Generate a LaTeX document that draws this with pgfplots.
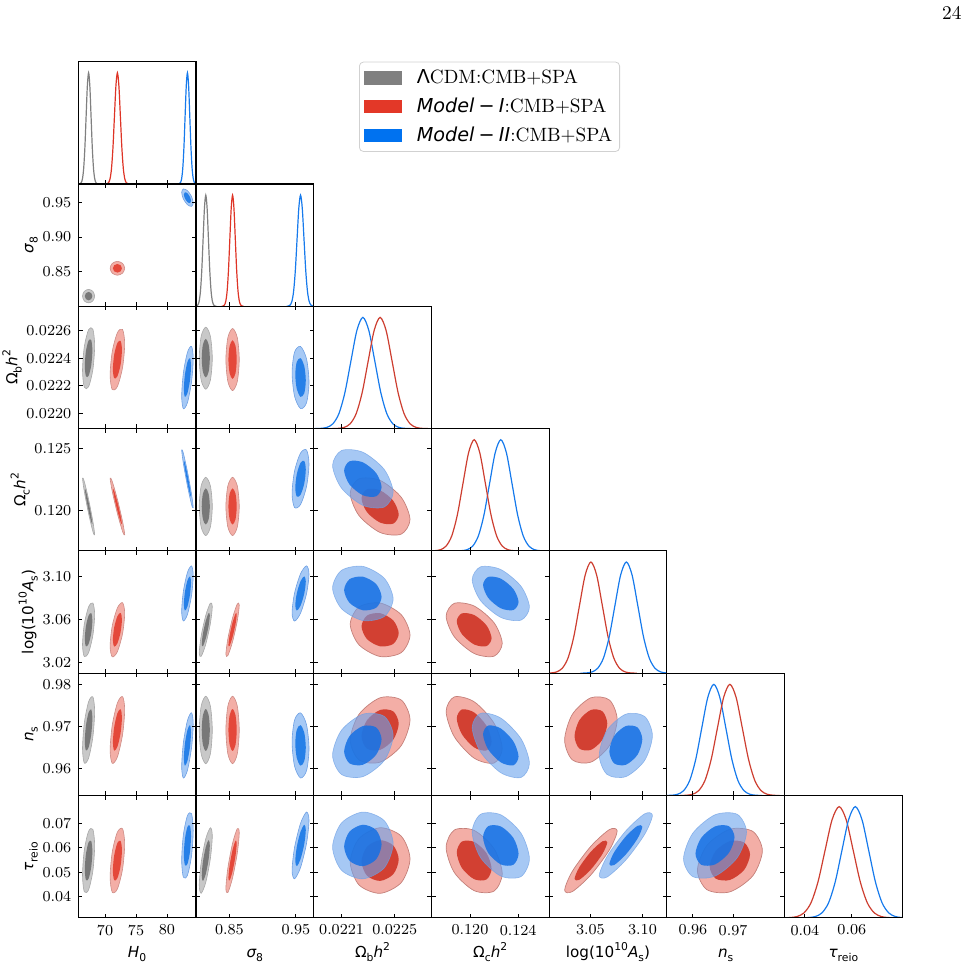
\documentclass[border=0pt]{standalone}
\usepackage{fontspec}
\usepackage{pgfplots}
\pgfplotsset{compat=1.18}
\newfontfamily\dv{DejaVu Sans}
\newcommand\tlf{\fontsize{7.6}{9}\selectfont}
\newcommand\lf{\dv\fontsize{7.6}{9}\selectfont\strut}
\newcommand\sbs[1]{\smash{\raisebox{-0.28em}{\fontsize{5.4}{6}\selectfont #1}}}
\newcommand\sps[1]{\smash{\raisebox{0.45em}{\fontsize{5.4}{6}\selectfont #1}}}
\definecolor{gL}{RGB}{200,200,200}
\definecolor{gE}{RGB}{168,168,168}
\definecolor{gD}{RGB}{120,120,120}
\definecolor{rL}{RGB}{243,174,166}
\definecolor{rE}{RGB}{205,140,134}
\definecolor{rE2}{RGB}{196,128,122}
\definecolor{rD}{RGB}{228,72,58}
\definecolor{rD2}{RGB}{210,64,50}
\definecolor{bL}{RGB}{166,201,245}
\definecolor{bE}{RGB}{110,160,228}
\definecolor{bD}{RGB}{38,128,232}
\definecolor{bLt}{RGB}{107,163,237}
\definecolor{bD2}{RGB}{20,112,228}
\definecolor{lG}{RGB}{128,128,128}
\definecolor{lR}{RGB}{222,52,38}
\definecolor{lRg}{RGB}{205,62,48}
\definecolor{lB}{RGB}{22,122,236}
\definecolor{legG}{RGB}{128,128,128}
\definecolor{legR}{RGB}{227,56,40}
\definecolor{legB}{RGB}{0,114,240}
\pgfplotsset{
  base/.style={scale only axis, width=58.85pt, height=61.15pt, anchor=south west,
    tick align=inside, major tick length=2.1pt,
    major tick style={black, line width=0.45pt},
    axis line style={line width=0.55pt},
    tick label style={font=\tlf},
    scaled ticks=false,
    xticklabels={}, yticklabels={},
    axis on top,
    xlabel style={inner sep=1.1pt},
    ylabel style={inner sep=0pt},
    ylabel shift=-1.7pt},
  twod/.style={base, xtick pos=both, ytick pos=both},
  oned/.style={base, xtick pos=left, ytick=\empty, ymin=0, ymax=1.1},
  xH/.style={xmin=65.69,xmax=84.68,xtick={70,75,80}},
  xS/.style={xmin=0.7998,xmax=0.9768,xtick={0.85,0.95}},
  yS/.style={ymin=0.7998,ymax=0.9768,ytick={0.85,0.90,0.95}},
  xOb/.style={xmin=0.02189,xmax=0.022776,xtick={0.0221,0.0225}},
  yOb/.style={ymin=0.02189,ymax=0.022776,ytick={0.0220,0.0222,0.0224,0.0226}},
  xOc/.style={xmin=0.1168,xmax=0.12657,xtick={0.120,0.124}},
  yOc/.style={ymin=0.1168,ymax=0.12657,ytick={0.120,0.125}},
  xAs/.style={xmin=3.0104,xmax=3.1233,xtick={3.05,3.10}},
  yAs/.style={ymin=3.0104,ymax=3.1233,ytick={3.02,3.06,3.10}},
  xns/.style={xmin=0.9535,xmax=0.9828,xtick={0.96,0.97}},
  yns/.style={ymin=0.9535,ymax=0.9828,ytick={0.96,0.97,0.98}},
  xtau/.style={xmin=0.0313,xmax=0.0815,xtick={0.04,0.06}},
  ytau/.style={ymin=0.0313,ymax=0.0815,ytick={0.04,0.05,0.06,0.07}},
  g95/.style={smooth cycle, fill=gL, draw=gE, line width=0.3pt},
  g68/.style={smooth cycle, fill=gD, draw=none},
  r95/.style={smooth cycle, fill=rL, draw=rE, line width=0.3pt},
  r68/.style={smooth cycle, fill=rD, draw=none},
  b95/.style={smooth cycle, fill=bL, draw=bE, line width=0.3pt},
  b68/.style={smooth cycle, fill=bD, draw=none},
  R95/.style={smooth cycle, fill=rL, draw=rE2, line width=0.35pt},
  R68/.style={smooth cycle, fill=rD2, draw=none},
  B95/.style={smooth cycle, fill=bLt, fill opacity=0.6, draw=bE, draw opacity=0.7, line width=0.3pt},
  B68/.style={smooth cycle, fill=bD2, fill opacity=0.85, draw=none},
  lnG/.style={smooth, draw=lG, line width=0.6pt},
  lnR/.style={smooth, draw=lR, line width=0.6pt},
  lnRg/.style={smooth, draw=lRg, line width=0.6pt},
  lnB/.style={smooth, draw=lB, line width=0.6pt},
}
\begin{document}
\begin{tikzpicture}
\path[use as bounding box] (0,0) rectangle (484pt,481pt);
% ================= Row 1 =================
\begin{axis}[oned, xH, at={(39.15pt,389pt)},
  legend style={at={(axis description cs:2.385,1)}, anchor=north west, draw=black!18, line width=0.4pt,
    rounded corners=2pt, fill=white, font=\fontsize{9.6}{11}\selectfont, row sep=2.6pt,
    inner xsep=2.2pt, inner ysep=2.2pt, nodes={inner sep=1.5pt}},
  legend cell align=left,
  legend image code/.code={\fill[#1, sharp corners] (1pt,-3.35pt) rectangle (20pt,3.35pt); \path (26pt,0pt);}]
\addlegendimage{fill=legG, draw=none}
\addlegendentry{{\dv Λ}CDM:CMB+SPA}
\addlegendimage{fill=legR, draw=none}
\addlegendentry{{\dv\itshape Model}{\dv\hspace{0.22em}−\hspace{0.22em}}{\dv\itshape I}:CMB+SPA}
\addlegendimage{fill=legB, draw=none}
\addlegendentry{{\dv\itshape Model}{\dv\hspace{0.22em}−\hspace{0.22em}}{\dv\itshape II}:CMB+SPA}
\addplot[lnG, forget plot] coordinates {(65.75,0.0003)(65.95,0.0022)(66.15,0.0111)(66.35,0.0439)(66.55,0.1353)(66.75,0.3247)(66.95,0.6065)(67.15,0.8825)(67.35,1)(67.55,0.8825)(67.75,0.6065)(67.95,0.3247)(68.15,0.1353)(68.35,0.0439)(68.55,0.0111)(68.75,0.0022)(68.95,0.0003)};
\addplot[lnR, forget plot] coordinates {(70.08,0.0003)(70.32,0.0022)(70.56,0.0111)(70.8,0.0439)(71.04,0.1353)(71.28,0.3247)(71.52,0.6065)(71.76,0.8825)(72,1)(72.24,0.8825)(72.48,0.6065)(72.72,0.3247)(72.96,0.1353)(73.2,0.0439)(73.44,0.0111)(73.68,0.0022)(73.92,0.0003)};
\addplot[lnB, forget plot] coordinates {(81.78,0.0003)(81.97,0.0022)(82.16,0.0111)(82.35,0.0439)(82.54,0.1353)(82.73,0.3247)(82.92,0.6065)(83.11,0.8825)(83.3,1)(83.49,0.8825)(83.68,0.6065)(83.87,0.3247)(84.06,0.1353)(84.25,0.0439)(84.44,0.0111)(84.63,0.0022)(84.82,0.0003)};
\end{axis}
% ================= Row 2 =================
\begin{axis}[twod, xH, yS, at={(39.15pt,327.85pt)}, yticklabels={0.85,0.90,0.95}, ylabel={\lf\itshape σ\sbs{\upshape 8}}]
\addplot[g95] coordinates {(68.33,0.8145)(68.043,0.82143)(67.35,0.8243)(66.657,0.82143)(66.37,0.8145)(66.657,0.80757)(67.35,0.8047)(68.043,0.80757)};
\addplot[g68] coordinates {(67.958,0.8145)(67.78,0.8188)(67.35,0.82058)(66.92,0.8188)(66.742,0.8145)(66.92,0.8102)(67.35,0.80842)(67.78,0.8102)};
\addplot[r95] coordinates {(73.176,0.8548)(72.831,0.8619)(72,0.86485)(71.169,0.8619)(70.824,0.8548)(71.169,0.8477)(72,0.84475)(72.831,0.8477)};
\addplot[r68] coordinates {(72.73,0.8548)(72.516,0.85921)(72,0.86103)(71.484,0.85921)(71.27,0.8548)(71.484,0.85039)(72,0.84857)(72.516,0.85039)};
\addplot[b95] coordinates {(84.231,0.94936)(83.958,0.9588)(83.3,0.96719)(82.642,0.96961)(82.369,0.96464)(82.642,0.9552)(83.3,0.94681)(83.958,0.94439)};
\addplot[b68] coordinates {(83.878,0.95226)(83.7085,0.95812)(83.3,0.96332)(82.8915,0.96482)(82.722,0.96174)(82.8915,0.95588)(83.3,0.95068)(83.7085,0.94918)};
\end{axis}
\begin{axis}[oned, xS, at={(98pt,327.85pt)}]
\addplot[lnG] coordinates {(0.7985,0.0003)(0.8005,0.0022)(0.8025,0.0111)(0.8045,0.0439)(0.8065,0.1353)(0.8085,0.3247)(0.8105,0.6065)(0.8125,0.8825)(0.8145,1)(0.8165,0.8825)(0.8185,0.6065)(0.8205,0.3247)(0.8225,0.1353)(0.8245,0.0439)(0.8265,0.0111)(0.8285,0.0022)(0.8305,0.0003)};
\addplot[lnR] coordinates {(0.8384,0.0003)(0.84045,0.0022)(0.8425,0.0111)(0.84455,0.0439)(0.8466,0.1353)(0.84865,0.3247)(0.8507,0.6065)(0.85275,0.8825)(0.8548,1)(0.85685,0.8825)(0.8589,0.6065)(0.86095,0.3247)(0.863,0.1353)(0.86505,0.0439)(0.8671,0.0111)(0.86915,0.0022)(0.8712,0.0003)};
\addplot[lnB] coordinates {(0.9362,0.0003)(0.9388,0.0022)(0.9414,0.0111)(0.944,0.0439)(0.9466,0.1353)(0.9492,0.3247)(0.9518,0.6065)(0.9544,0.8825)(0.957,1)(0.9596,0.8825)(0.9622,0.6065)(0.9648,0.3247)(0.9674,0.1353)(0.97,0.0439)(0.9726,0.0111)(0.9752,0.0022)(0.9778,0.0003)};
\end{axis}
% ================= Row 3 =================
\begin{axis}[twod, xH, yOb, at={(39.15pt,266.7pt)}, yticklabels={0.0220,0.0222,0.0224,0.0226}, ylabel={\lf Ω\sbs{b}\itshape h\sps{\upshape 2}}]
\addplot[g95] coordinates {(68.33,0.022490)(68.043,0.022610)(67.35,0.022607)(66.657,0.022482)(66.37,0.022310)(66.657,0.022190)(67.35,0.022193)(68.043,0.022318)};
\addplot[g68] coordinates {(67.958,0.022456)(67.78,0.022530)(67.35,0.022528)(66.92,0.022451)(66.742,0.022344)(66.92,0.022270)(67.35,0.022272)(67.78,0.022349)};
\addplot[r95] coordinates {(73.176,0.022503)(72.831,0.022608)(72,0.022585)(71.169,0.022448)(70.824,0.022277)(71.169,0.022172)(72,0.022195)(72.831,0.022332)};
\addplot[r68] coordinates {(72.73,0.022460)(72.516,0.022525)(72,0.022511)(71.484,0.022426)(71.27,0.022320)(71.484,0.022255)(72,0.022269)(72.516,0.022354)};
\addplot[b95] coordinates {(84.231,0.022397)(83.958,0.022486)(83.3,0.022442)(82.642,0.022292)(82.369,0.022123)(82.642,0.022034)(83.3,0.022078)(83.958,0.022228)};
\addplot[b68] coordinates {(83.878,0.022345)(83.7085,0.022400)(83.3,0.022373)(82.8915,0.022280)(82.722,0.022175)(82.8915,0.022120)(83.3,0.022147)(83.7085,0.022240)};
\end{axis}
\begin{axis}[twod, xS, yOb, at={(98pt,266.7pt)}]
\addplot[g95] coordinates {(0.8243,0.022400)(0.82143,0.022559)(0.8145,0.022625)(0.80757,0.022559)(0.8047,0.022400)(0.80757,0.022241)(0.8145,0.022175)(0.82143,0.022241)};
\addplot[g68] coordinates {(0.82058,0.022400)(0.8188,0.022499)(0.8145,0.022540)(0.8102,0.022499)(0.80842,0.022400)(0.8102,0.022301)(0.8145,0.022260)(0.8188,0.022301)};
\addplot[r95] coordinates {(0.86485,0.022390)(0.8619,0.022549)(0.8548,0.022615)(0.8477,0.022549)(0.84475,0.022390)(0.8477,0.022231)(0.8548,0.022165)(0.8619,0.022231)};
\addplot[r68] coordinates {(0.86103,0.022390)(0.85921,0.022489)(0.8548,0.022530)(0.85039,0.022489)(0.84857,0.022390)(0.85039,0.022291)(0.8548,0.022250)(0.85921,0.022291)};
\addplot[b95] coordinates {(0.96974,0.022226)(0.96601,0.022395)(0.957,0.022485)(0.94799,0.022444)(0.94426,0.022294)(0.94799,0.022125)(0.957,0.022035)(0.96601,0.022077)};
\addplot[b68] coordinates {(0.9649,0.022239)(0.96259,0.022344)(0.957,0.0224)(0.95141,0.022374)(0.9491,0.022281)(0.95141,0.022176)(0.957,0.02212)(0.96259,0.022146)};
\end{axis}
\begin{axis}[oned, xOb, at={(156.85pt,266.7pt)}]
\addplot[lnB] coordinates {(0.0219,0.0003)(0.021945,0.0022)(0.02199,0.0111)(0.022035,0.0439)(0.02208,0.1353)(0.022125,0.3247)(0.02217,0.6065)(0.022215,0.8825)(0.02226,1)(0.022305,0.8825)(0.02235,0.6065)(0.022395,0.3247)(0.02244,0.1353)(0.022485,0.0439)(0.02253,0.0111)(0.022575,0.0022)(0.02262,0.0003)};
\addplot[lnRg] coordinates {(0.02203,0.0003)(0.022075,0.0022)(0.02212,0.0111)(0.022165,0.0439)(0.02221,0.1353)(0.022255,0.3247)(0.0223,0.6065)(0.022345,0.8825)(0.02239,1)(0.022435,0.8825)(0.02248,0.6065)(0.022525,0.3247)(0.02257,0.1353)(0.022615,0.0439)(0.02266,0.0111)(0.022705,0.0022)(0.02275,0.0003)};
\end{axis}
% ================= Row 4 =================
\begin{axis}[twod, xH, yOc, at={(39.15pt,205.55pt)}, yticklabels={0.120,0.125}, ylabel={\lf Ω\sbs{c}\itshape h\sps{\upshape 2}}]
\addplot[g95] coordinates {(68.33,0.118092)(68.043,0.119153)(67.35,0.120916)(66.657,0.122347)(66.37,0.122608)(66.657,0.121547)(67.35,0.119784)(68.043,0.118353)};
\addplot[g68] coordinates {(67.958,0.118949)(67.78,0.119608)(67.35,0.120701)(66.92,0.121589)(66.742,0.121751)(66.92,0.121092)(67.35,0.119999)(67.78,0.119111)};
\addplot[r95] coordinates {(73.176,0.118092)(72.831,0.119153)(72,0.120916)(71.169,0.122347)(70.824,0.122608)(71.169,0.121547)(72,0.119784)(72.831,0.118353)};
\addplot[r68] coordinates {(72.73,0.118949)(72.516,0.119608)(72,0.120701)(71.484,0.121589)(71.27,0.121751)(71.484,0.121092)(72,0.119999)(72.516,0.119111)};
\addplot[b95] coordinates {(84.231,0.120254)(83.958,0.121338)(83.3,0.123138)(82.642,0.124599)(82.369,0.124866)(82.642,0.123782)(83.3,0.121982)(83.958,0.120521)};
\addplot[b68] coordinates {(83.878,0.12113)(83.7085,0.121802)(83.3,0.122918)(82.8915,0.123824)(82.722,0.12399)(82.8915,0.123318)(83.3,0.122202)(83.7085,0.121296)};
\end{axis}
\begin{axis}[twod, xS, yOc, at={(98pt,205.55pt)}]
\addplot[g95] coordinates {(0.8243,0.12035)(0.82143,0.121996)(0.8145,0.122678)(0.80757,0.121996)(0.8047,0.12035)(0.80757,0.118704)(0.8145,0.118022)(0.82143,0.118704)};
\addplot[g68] coordinates {(0.82058,0.12035)(0.8188,0.121371)(0.8145,0.121794)(0.8102,0.121371)(0.80842,0.12035)(0.8102,0.119329)(0.8145,0.118906)(0.8188,0.119329)};
\addplot[r95] coordinates {(0.86485,0.12035)(0.8619,0.121996)(0.8548,0.122678)(0.8477,0.121996)(0.84475,0.12035)(0.8477,0.118704)(0.8548,0.118022)(0.8619,0.118704)};
\addplot[r68] coordinates {(0.86103,0.12035)(0.85921,0.121371)(0.8548,0.121794)(0.85039,0.121371)(0.84857,0.12035)(0.85039,0.119329)(0.8548,0.118906)(0.85921,0.119329)};
\addplot[b95] coordinates {(0.96974,0.123749)(0.96601,0.124856)(0.957,0.124618)(0.94799,0.123175)(0.94426,0.121371)(0.94799,0.120264)(0.957,0.120502)(0.96601,0.121945)};
\addplot[b68] coordinates {(0.9649,0.123297)(0.96259,0.123984)(0.957,0.123837)(0.95141,0.122941)(0.9491,0.121823)(0.95141,0.121136)(0.957,0.121283)(0.96259,0.122179)};
\end{axis}
\begin{axis}[twod, xOb, yOc, at={(156.85pt,205.55pt)}]
\addplot[R95] coordinates {(0.022615,0.119302)(0.022549,0.121079)(0.02239,0.122429)(0.022231,0.122561)(0.022165,0.121398)(0.022231,0.119621)(0.02239,0.118271)(0.022549,0.118139)};
\addplot[R68] coordinates {(0.02253,0.1197)(0.022489,0.120802)(0.02239,0.12164)(0.022291,0.121721)(0.02225,0.121)(0.022291,0.119898)(0.02239,0.11906)(0.022489,0.118979)};
\addplot[B95] coordinates {(0.022488,0.12149)(0.022421,0.123305)(0.02226,0.124683)(0.022099,0.124817)(0.022032,0.12363)(0.022099,0.121815)(0.02226,0.120437)(0.022421,0.120303)};
\addplot[B68] coordinates {(0.022401,0.121897)(0.02236,0.123022)(0.02226,0.123876)(0.02216,0.12396)(0.022119,0.123223)(0.02216,0.122098)(0.02226,0.121244)(0.02236,0.12116)};
\end{axis}
\begin{axis}[oned, xOc, at={(215.7pt,205.55pt)}]
\addplot[lnB] coordinates {(0.11884,0.0003)(0.119305,0.0022)(0.11977,0.0111)(0.120235,0.0439)(0.1207,0.1353)(0.121165,0.3247)(0.12163,0.6065)(0.122095,0.8825)(0.12256,1)(0.123025,0.8825)(0.12349,0.6065)(0.123955,0.3247)(0.12442,0.1353)(0.124885,0.0439)(0.12535,0.0111)(0.125815,0.0022)(0.12628,0.0003)};
\addplot[lnRg] coordinates {(0.11663,0.0003)(0.117095,0.0022)(0.11756,0.0111)(0.118025,0.0439)(0.11849,0.1353)(0.118955,0.3247)(0.11942,0.6065)(0.119885,0.8825)(0.12035,1)(0.120815,0.8825)(0.12128,0.6065)(0.121745,0.3247)(0.12221,0.1353)(0.122675,0.0439)(0.12314,0.0111)(0.123605,0.0022)(0.12407,0.0003)};
\end{axis}
% ================= Row 5 =================
\begin{axis}[twod, xH, yAs, at={(39.15pt,144.4pt)}, yticklabels={3.02,3.06,3.10}, ylabel={\lf log(10\sps{10}{\itshape A}\sbs{s})}]
\addplot[g95] coordinates {(68.33,3.0644)(68.043,3.0752)(67.35,3.0716)(66.657,3.0556)(66.37,3.0366)(66.657,3.0258)(67.35,3.0294)(68.043,3.0454)};
\addplot[g68] coordinates {(67.958,3.0591)(67.78,3.0658)(67.35,3.0636)(66.92,3.0537)(66.742,3.0419)(66.92,3.0352)(67.35,3.0374)(67.78,3.0473)};
\addplot[r95] coordinates {(73.176,3.0656)(72.831,3.0755)(72,3.0707)(71.169,3.0541)(70.824,3.0354)(71.169,3.0255)(72,3.0303)(72.831,3.0469)};
\addplot[r68] coordinates {(72.73,3.0599)(72.516,3.066)(72,3.063)(71.484,3.0527)(71.27,3.0411)(71.484,3.035)(72,3.038)(72.516,3.0483)};
\addplot[b95] coordinates {(84.231,3.1006)(83.958,3.1094)(83.3,3.1034)(82.642,3.086)(82.369,3.0674)(82.642,3.0586)(83.3,3.0646)(83.958,3.082)};
\addplot[b68] coordinates {(83.878,3.0943)(83.7085,3.0998)(83.3,3.096)(82.8915,3.0852)(82.722,3.0737)(82.8915,3.0682)(83.3,3.072)(83.7085,3.0828)};
\end{axis}
\begin{axis}[twod, xS, yAs, at={(98pt,144.4pt)}]
\addplot[g95] coordinates {(0.8243,3.072)(0.82143,3.0751)(0.8145,3.0638)(0.80757,3.0447)(0.8047,3.029)(0.80757,3.0259)(0.8145,3.0372)(0.82143,3.0563)};
\addplot[g68] coordinates {(0.82058,3.0638)(0.8188,3.0658)(0.8145,3.0588)(0.8102,3.0469)(0.80842,3.0372)(0.8102,3.0353)(0.8145,3.0423)(0.8188,3.0541)};
\addplot[r95] coordinates {(0.86485,3.0732)(0.8619,3.0743)(0.8548,3.0615)(0.8477,3.0422)(0.84475,3.0278)(0.8477,3.0267)(0.8548,3.0395)(0.8619,3.0588)};
\addplot[r68] coordinates {(0.86103,3.0646)(0.85921,3.0653)(0.8548,3.0573)(0.85039,3.0454)(0.84857,3.0364)(0.85039,3.0357)(0.8548,3.0437)(0.85921,3.0556)};
\addplot[b95] coordinates {(0.96974,3.1018)(0.96601,3.1095)(0.957,3.1022)(0.94799,3.0843)(0.94426,3.0662)(0.94799,3.0585)(0.957,3.0658)(0.96601,3.0838)};
\addplot[b68] coordinates {(0.9649,3.0951)(0.96259,3.0998)(0.957,3.0953)(0.95141,3.0842)(0.9491,3.0729)(0.95141,3.0682)(0.957,3.0727)(0.96259,3.0838)};
\end{axis}
\begin{axis}[twod, xOb, yAs, at={(156.85pt,144.4pt)}]
\addplot[R95] coordinates {(0.022615,3.0455)(0.022549,3.0644)(0.02239,3.0752)(0.022231,3.0716)(0.022165,3.0556)(0.022231,3.0366)(0.02239,3.0258)(0.022549,3.0294)};
\addplot[R68] coordinates {(0.02253,3.0474)(0.022489,3.0591)(0.02239,3.0658)(0.022291,3.0636)(0.02225,3.0536)(0.022291,3.0419)(0.02239,3.0352)(0.022489,3.0374)};
\addplot[B95] coordinates {(0.022488,3.0789)(0.022421,3.0981)(0.02226,3.109)(0.022099,3.1053)(0.022032,3.0891)(0.022099,3.07)(0.02226,3.059)(0.022421,3.0627)};
\addplot[B68] coordinates {(0.022401,3.0808)(0.02236,3.0927)(0.02226,3.0995)(0.02216,3.0972)(0.022119,3.0872)(0.02216,3.0753)(0.02226,3.0685)(0.02236,3.0708)};
\end{axis}
\begin{axis}[twod, xOc, yAs, at={(215.7pt,144.4pt)}]
\addplot[R95] coordinates {(0.122678,3.0379)(0.121996,3.057)(0.12035,3.0724)(0.118704,3.0749)(0.118022,3.0631)(0.118704,3.044)(0.12035,3.0286)(0.121996,3.0261)};
\addplot[R68] coordinates {(0.121794,3.0427)(0.121371,3.0546)(0.12035,3.0641)(0.119329,3.0656)(0.118906,3.0583)(0.119329,3.0465)(0.12035,3.0369)(0.121371,3.0354)};
\addplot[B95] coordinates {(0.124937,3.0713)(0.12424,3.0906)(0.12256,3.1061)(0.12088,3.1086)(0.120183,3.0967)(0.12088,3.0774)(0.12256,3.0619)(0.12424,3.0594)};
\addplot[B68] coordinates {(0.124034,3.0761)(0.123603,3.0881)(0.12256,3.0977)(0.121517,3.0993)(0.121086,3.0919)(0.121517,3.0799)(0.12256,3.0703)(0.123603,3.0687)};
\end{axis}
\begin{axis}[oned, xAs, at={(274.55pt,144.4pt)}]
\addplot[lnRg] coordinates {(3.0065,0.0003)(3.012,0.0022)(3.0175,0.0111)(3.023,0.0439)(3.0285,0.1353)(3.034,0.3247)(3.0395,0.6065)(3.045,0.8825)(3.0505,1)(3.056,0.8825)(3.0615,0.6065)(3.067,0.3247)(3.0725,0.1353)(3.078,0.0439)(3.0835,0.0111)(3.089,0.0022)(3.0945,0.0003)};
\addplot[lnB] coordinates {(3.0405,0.0003)(3.046,0.0022)(3.0515,0.0111)(3.057,0.0439)(3.0625,0.1353)(3.068,0.3247)(3.0735,0.6065)(3.079,0.8825)(3.0845,1)(3.09,0.8825)(3.0955,0.6065)(3.101,0.3247)(3.1065,0.1353)(3.112,0.0439)(3.1175,0.0111)(3.123,0.0022)(3.1285,0.0003)};
\end{axis}
% ================= Row 6 =================
\begin{axis}[twod, xH, yns, at={(39.15pt,83.25pt)}, yticklabels={0.96,0.97,0.98}, ylabel={\lf\itshape n\sbs{\upshape s}}]
\addplot[g95] coordinates {(68.33,0.97365)(68.043,0.97712)(67.35,0.97595)(66.657,0.97083)(66.37,0.96475)(66.657,0.96128)(67.35,0.96245)(68.043,0.96757)};
\addplot[g68] coordinates {(67.958,0.97196)(67.78,0.97411)(67.35,0.97339)(66.92,0.97021)(66.742,0.96644)(66.92,0.96429)(67.35,0.96501)(67.78,0.96819)};
\addplot[r95] coordinates {(73.176,0.97405)(72.831,0.9772)(72,0.97567)(71.169,0.97034)(70.824,0.96435)(71.169,0.9612)(72,0.96273)(72.831,0.96806)};
\addplot[r68] coordinates {(72.73,0.97221)(72.516,0.97417)(72,0.97321)(71.484,0.96991)(71.27,0.96619)(71.484,0.96424)(72,0.96519)(72.516,0.96849)};
\addplot[b95] coordinates {(84.231,0.9706)(83.958,0.97332)(83.3,0.97146)(82.642,0.96611)(82.369,0.9604)(82.642,0.95768)(83.3,0.95954)(83.958,0.96489)};
\addplot[b68] coordinates {(83.878,0.96866)(83.7085,0.97035)(83.3,0.9692)(82.8915,0.96588)(82.722,0.96234)(82.8915,0.96065)(83.3,0.9618)(83.7085,0.96512)};
\end{axis}
\begin{axis}[twod, xS, yns, at={(98pt,83.25pt)}]
\addplot[g95] coordinates {(0.8243,0.9692)(0.82143,0.97492)(0.8145,0.97729)(0.80757,0.97492)(0.8047,0.9692)(0.80757,0.96348)(0.8145,0.96112)(0.82143,0.96348)};
\addplot[g68] coordinates {(0.82058,0.9692)(0.8188,0.97275)(0.8145,0.97422)(0.8102,0.97275)(0.80842,0.9692)(0.8102,0.96565)(0.8145,0.96418)(0.8188,0.96565)};
\addplot[r95] coordinates {(0.86485,0.9692)(0.8619,0.97492)(0.8548,0.97729)(0.8477,0.97492)(0.84475,0.9692)(0.8477,0.96348)(0.8548,0.96112)(0.8619,0.96348)};
\addplot[r68] coordinates {(0.86103,0.9692)(0.85921,0.97275)(0.8548,0.97422)(0.85039,0.97275)(0.84857,0.9692)(0.85039,0.96565)(0.8548,0.96418)(0.85921,0.96565)};
\addplot[b95] coordinates {(0.96974,0.96472)(0.96601,0.97046)(0.957,0.9733)(0.94799,0.97157)(0.94426,0.96628)(0.94799,0.96054)(0.957,0.9577)(0.96601,0.95943)};
\addplot[b68] coordinates {(0.9649,0.96501)(0.96259,0.96858)(0.957,0.97034)(0.95141,0.96927)(0.9491,0.96599)(0.95141,0.96242)(0.957,0.96066)(0.96259,0.96173)};
\end{axis}
\begin{axis}[twod, xOb, yns, at={(156.85pt,83.25pt)}]
\addplot[R95] coordinates {(0.022615,0.97163)(0.022549,0.97637)(0.02239,0.97691)(0.022231,0.97294)(0.022165,0.96677)(0.022231,0.96203)(0.02239,0.96149)(0.022549,0.96546)};
\addplot[R68] coordinates {(0.02253,0.97071)(0.022489,0.97365)(0.02239,0.97399)(0.022291,0.97152)(0.02225,0.9677)(0.022291,0.96475)(0.02239,0.96442)(0.022489,0.96688)};
\addplot[B95] coordinates {(0.022488,0.96785)(0.022421,0.97245)(0.02226,0.97298)(0.022099,0.96913)(0.022032,0.96315)(0.022099,0.95855)(0.02226,0.95802)(0.022421,0.96188)};
\addplot[B68] coordinates {(0.022401,0.96696)(0.02236,0.96981)(0.02226,0.97014)(0.02216,0.96775)(0.022119,0.96404)(0.02216,0.96119)(0.02226,0.96086)(0.02236,0.96325)};
\end{axis}
\begin{axis}[twod, xOc, yns, at={(215.7pt,83.25pt)}]
\addplot[R95] coordinates {(0.122678,0.96475)(0.121996,0.97083)(0.12035,0.97595)(0.118704,0.97712)(0.118022,0.97365)(0.118704,0.96757)(0.12035,0.96245)(0.121996,0.96128)};
\addplot[R68] coordinates {(0.121794,0.96644)(0.121371,0.97021)(0.12035,0.97339)(0.119329,0.97411)(0.118906,0.97196)(0.119329,0.96819)(0.12035,0.96501)(0.121371,0.96429)};
\addplot[B95] coordinates {(0.124937,0.96119)(0.12424,0.96708)(0.12256,0.97205)(0.12088,0.97318)(0.120183,0.96981)(0.12088,0.96392)(0.12256,0.95895)(0.12424,0.95782)};
\addplot[B68] coordinates {(0.124034,0.96283)(0.123603,0.96648)(0.12256,0.96956)(0.121517,0.97026)(0.121086,0.96818)(0.121517,0.96452)(0.12256,0.96144)(0.123603,0.96074)};
\end{axis}
\begin{axis}[twod, xAs, yns, at={(274.55pt,83.25pt)}]
\addplot[R95] coordinates {(3.0757,0.97163)(3.0683,0.97637)(3.0505,0.97691)(3.0327,0.97294)(3.0253,0.96677)(3.0327,0.96203)(3.0505,0.96149)(3.0683,0.96546)};
\addplot[R68] coordinates {(3.0662,0.97071)(3.0616,0.97365)(3.0505,0.97399)(3.0394,0.97152)(3.0348,0.9677)(3.0394,0.96475)(3.0505,0.96442)(3.0616,0.96688)};
\addplot[B95] coordinates {(3.1095,0.96785)(3.102,0.97245)(3.084,0.97298)(3.066,0.96913)(3.0585,0.96315)(3.066,0.95855)(3.084,0.95802)(3.102,0.96188)};
\addplot[B68] coordinates {(3.0998,0.96696)(3.0952,0.96981)(3.084,0.97014)(3.0728,0.96775)(3.0682,0.96404)(3.0728,0.96119)(3.084,0.96086)(3.0952,0.96325)};
\end{axis}
\begin{axis}[oned, xns, at={(333.4pt,83.25pt)}]
\addplot[lnB] coordinates {(0.9532,0.0003)(0.9547,0.0022)(0.9562,0.0111)(0.9577,0.0439)(0.9592,0.1353)(0.9607,0.3247)(0.9622,0.6065)(0.9637,0.8825)(0.9652,1)(0.9667,0.8825)(0.9682,0.6065)(0.9697,0.3247)(0.9712,0.1353)(0.9727,0.0439)(0.9742,0.0111)(0.9757,0.0022)(0.9772,0.0003)};
\addplot[lnRg] coordinates {(0.9568,0.0003)(0.95835,0.0022)(0.9599,0.0111)(0.96145,0.0439)(0.963,0.1353)(0.96455,0.3247)(0.9661,0.6065)(0.96765,0.8825)(0.9692,1)(0.97075,0.8825)(0.9723,0.6065)(0.97385,0.3247)(0.9754,0.1353)(0.97695,0.0439)(0.9785,0.0111)(0.98005,0.0022)(0.9816,0.0003)};
\end{axis}
% ================= Row 7 =================
\begin{axis}[twod, xH, ytau, at={(39.15pt,22.1pt)}, xticklabels={70,75,80}, yticklabels={0.04,0.05,0.06,0.07},
  xlabel={\lf\itshape H\sbs{\upshape 0}}, ylabel={\lf\itshape τ\sbs{\upshape reio}}]
\addplot[g95] coordinates {(68.33,0.060864)(68.043,0.067596)(67.35,0.066833)(66.657,0.059022)(66.37,0.048736)(66.657,0.042004)(67.35,0.042767)(68.043,0.050578)};
\addplot[g68] coordinates {(67.958,0.058562)(67.78,0.062739)(67.35,0.062265)(66.92,0.057419)(66.742,0.051038)(66.92,0.046861)(67.35,0.047335)(67.78,0.052181)};
\addplot[r95] coordinates {(73.176,0.061538)(72.831,0.067816)(72,0.066469)(71.169,0.058287)(70.824,0.048062)(71.169,0.041784)(72,0.043131)(72.831,0.051313)};
\addplot[r68] coordinates {(72.73,0.05898)(72.516,0.062875)(72,0.06204)(71.484,0.056964)(71.27,0.05062)(71.484,0.046725)(72,0.04756)(72.516,0.052636)};
\addplot[b95] coordinates {(84.231,0.067174)(83.958,0.074028)(83.3,0.073252)(82.642,0.065299)(82.369,0.054826)(82.642,0.047972)(83.3,0.048748)(83.958,0.056701)};
\addplot[b68] coordinates {(83.878,0.06483)(83.7085,0.069083)(83.3,0.068601)(82.8915,0.063667)(82.722,0.05717)(82.8915,0.052917)(83.3,0.053399)(83.7085,0.058333)};
\end{axis}
\begin{axis}[twod, xS, ytau, at={(98pt,22.1pt)}, xticklabels={0.85,0.95}, xlabel={\lf\itshape σ\sbs{\upshape 8}}]
\addplot[g95] coordinates {(0.8243,0.064906)(0.82143,0.068248)(0.8145,0.063712)(0.80757,0.053955)(0.8047,0.044694)(0.80757,0.041352)(0.8145,0.045888)(0.82143,0.055645)};
\addplot[g68] coordinates {(0.82058,0.06107)(0.8188,0.063143)(0.8145,0.060329)(0.8102,0.054276)(0.80842,0.04853)(0.8102,0.046457)(0.8145,0.049271)(0.8188,0.055324)};
\addplot[r95] coordinates {(0.86485,0.066254)(0.8619,0.067918)(0.8548,0.061899)(0.8477,0.051721)(0.84475,0.043346)(0.8477,0.041682)(0.8548,0.047701)(0.8619,0.057879)};
\addplot[r68] coordinates {(0.86103,0.061906)(0.85921,0.062938)(0.8548,0.059204)(0.85039,0.05289)(0.84857,0.047694)(0.85039,0.046662)(0.8548,0.050396)(0.85921,0.05671)};
\addplot[b95] coordinates {(0.96974,0.07129)(0.96601,0.074693)(0.957,0.070074)(0.94799,0.06014)(0.94426,0.05071)(0.94799,0.047307)(0.957,0.051926)(0.96601,0.06186)};
\addplot[b68] coordinates {(0.9649,0.067384)(0.96259,0.069495)(0.957,0.06663)(0.95141,0.060466)(0.9491,0.054616)(0.95141,0.052505)(0.957,0.05537)(0.96259,0.061534)};
\end{axis}
\begin{axis}[twod, xOb, ytau, at={(156.85pt,22.1pt)}, xticklabels={0.0221,0.0225}, xlabel={\lf Ω\sbs{b}\itshape h\sps{\upshape 2}}]
\addplot[R95] coordinates {(0.022615,0.055474)(0.022549,0.064793)(0.02239,0.068257)(0.022231,0.063839)(0.022165,0.054126)(0.022231,0.044807)(0.02239,0.041343)(0.022549,0.045761)};
\addplot[R68] coordinates {(0.02253,0.055218)(0.022489,0.061)(0.02239,0.063149)(0.022291,0.060408)(0.02225,0.054382)(0.022291,0.0486)(0.02239,0.046451)(0.022489,0.049192)};
\addplot[B95] coordinates {(0.022488,0.061686)(0.022421,0.071175)(0.02226,0.074702)(0.022099,0.070204)(0.022032,0.060314)(0.022099,0.050825)(0.02226,0.047298)(0.022421,0.051796)};
\addplot[B68] coordinates {(0.022401,0.061426)(0.02236,0.067313)(0.02226,0.069501)(0.02216,0.06671)(0.022119,0.060574)(0.02216,0.054687)(0.02226,0.052499)(0.02236,0.05529)};
\end{axis}
\begin{axis}[twod, xOc, ytau, at={(215.7pt,22.1pt)}, xticklabels={0.120,0.124}, xlabel={\lf Ω\sbs{c}\itshape h\sps{\upshape 2}}]
\addplot[R95] coordinates {(0.122678,0.04941)(0.121996,0.059721)(0.12035,0.06715)(0.118704,0.067344)(0.118022,0.06019)(0.118704,0.049879)(0.12035,0.04245)(0.121996,0.042256)};
\addplot[R68] coordinates {(0.121794,0.051456)(0.121371,0.057853)(0.12035,0.062462)(0.119329,0.062582)(0.118906,0.058144)(0.119329,0.051747)(0.12035,0.047138)(0.121371,0.047018)};
\addplot[B95] coordinates {(0.124937,0.055512)(0.12424,0.066011)(0.12256,0.073574)(0.12088,0.073772)(0.120183,0.066488)(0.12088,0.055989)(0.12256,0.048426)(0.12424,0.048228)};
\addplot[B68] coordinates {(0.124034,0.057595)(0.123603,0.064109)(0.12256,0.068801)(0.121517,0.068924)(0.121086,0.064405)(0.121517,0.057891)(0.12256,0.053199)(0.123603,0.053076)};
\end{axis}
\begin{axis}[twod, xAs, ytau, at={(274.55pt,22.1pt)}, xticklabels={3.05,3.10}, xlabel={\lf log(10\sps{10}{\itshape A}\sbs{s})}]
\addplot[R95] coordinates {(3.0757,0.066928)(3.0683,0.067529)(3.0505,0.060674)(3.0327,0.050377)(3.0253,0.042672)(3.0327,0.042071)(3.0505,0.048926)(3.0683,0.059223)};
\addplot[R68] coordinates {(3.0662,0.062324)(3.0616,0.062697)(3.0505,0.058444)(3.0394,0.052056)(3.0348,0.047276)(3.0394,0.046903)(3.0505,0.051156)(3.0616,0.057544)};
\addplot[B95] coordinates {(3.1095,0.073348)(3.102,0.07396)(3.084,0.066981)(3.066,0.056497)(3.0585,0.048652)(3.066,0.04804)(3.084,0.055019)(3.102,0.065503)};
\addplot[B68] coordinates {(3.0998,0.068661)(3.0952,0.06904)(3.084,0.06471)(3.0728,0.058206)(3.0682,0.053339)(3.0728,0.05296)(3.084,0.05729)(3.0952,0.063794)};
\end{axis}
\begin{axis}[twod, xns, ytau, at={(333.4pt,22.1pt)}, xticklabels={0.96,0.97}, xlabel={\lf\itshape n\sbs{\upshape s}}]
\addplot[R95] coordinates {(0.97729,0.058843)(0.97492,0.066747)(0.9692,0.067654)(0.96348,0.061031)(0.96112,0.050757)(0.96348,0.042853)(0.9692,0.041946)(0.97492,0.048569)};
\addplot[R68] coordinates {(0.97422,0.057308)(0.97275,0.062212)(0.9692,0.062775)(0.96565,0.058666)(0.96418,0.052292)(0.96565,0.047388)(0.9692,0.046825)(0.97275,0.050934)};
\addplot[B95] coordinates {(0.97334,0.066488)(0.97104,0.073772)(0.9655,0.073574)(0.95996,0.066011)(0.95766,0.055512)(0.95996,0.048228)(0.9655,0.048426)(0.97104,0.055989)};
\addplot[B68] coordinates {(0.97036,0.064405)(0.96894,0.068924)(0.9655,0.068801)(0.96206,0.064109)(0.96064,0.057595)(0.96206,0.053076)(0.9655,0.053199)(0.96894,0.057891)};
\end{axis}
\begin{axis}[oned, xtau, at={(392.25pt,22.1pt)}, xticklabels={0.04,0.06}, xlabel={\lf\itshape τ\sbs{\upshape reio}}]
\addplot[lnRg] coordinates {(0.0306,0.0003)(0.0336,0.0022)(0.0366,0.0111)(0.0396,0.0439)(0.0426,0.1353)(0.0456,0.3247)(0.0486,0.6065)(0.0516,0.8825)(0.0546,1)(0.0576,0.8825)(0.0606,0.6065)(0.0636,0.3247)(0.0666,0.1353)(0.0696,0.0439)(0.0726,0.0111)(0.0756,0.0022)(0.0786,0.0003)};
\addplot[lnB] coordinates {(0.0387,0.0003)(0.04155,0.0022)(0.0444,0.0111)(0.04725,0.0439)(0.0501,0.1353)(0.05295,0.3247)(0.0558,0.6065)(0.05865,0.8825)(0.0615,1)(0.06435,0.8825)(0.0672,0.6065)(0.07005,0.3247)(0.0729,0.1353)(0.07575,0.0439)(0.0786,0.0111)(0.08145,0.0022)(0.0843,0.0003)};
\end{axis}
\node[anchor=east, font=\fontsize{9.7}{11}\selectfont, inner sep=0pt] at (481pt,474.5pt) {24};
\end{tikzpicture}
\end{document}
